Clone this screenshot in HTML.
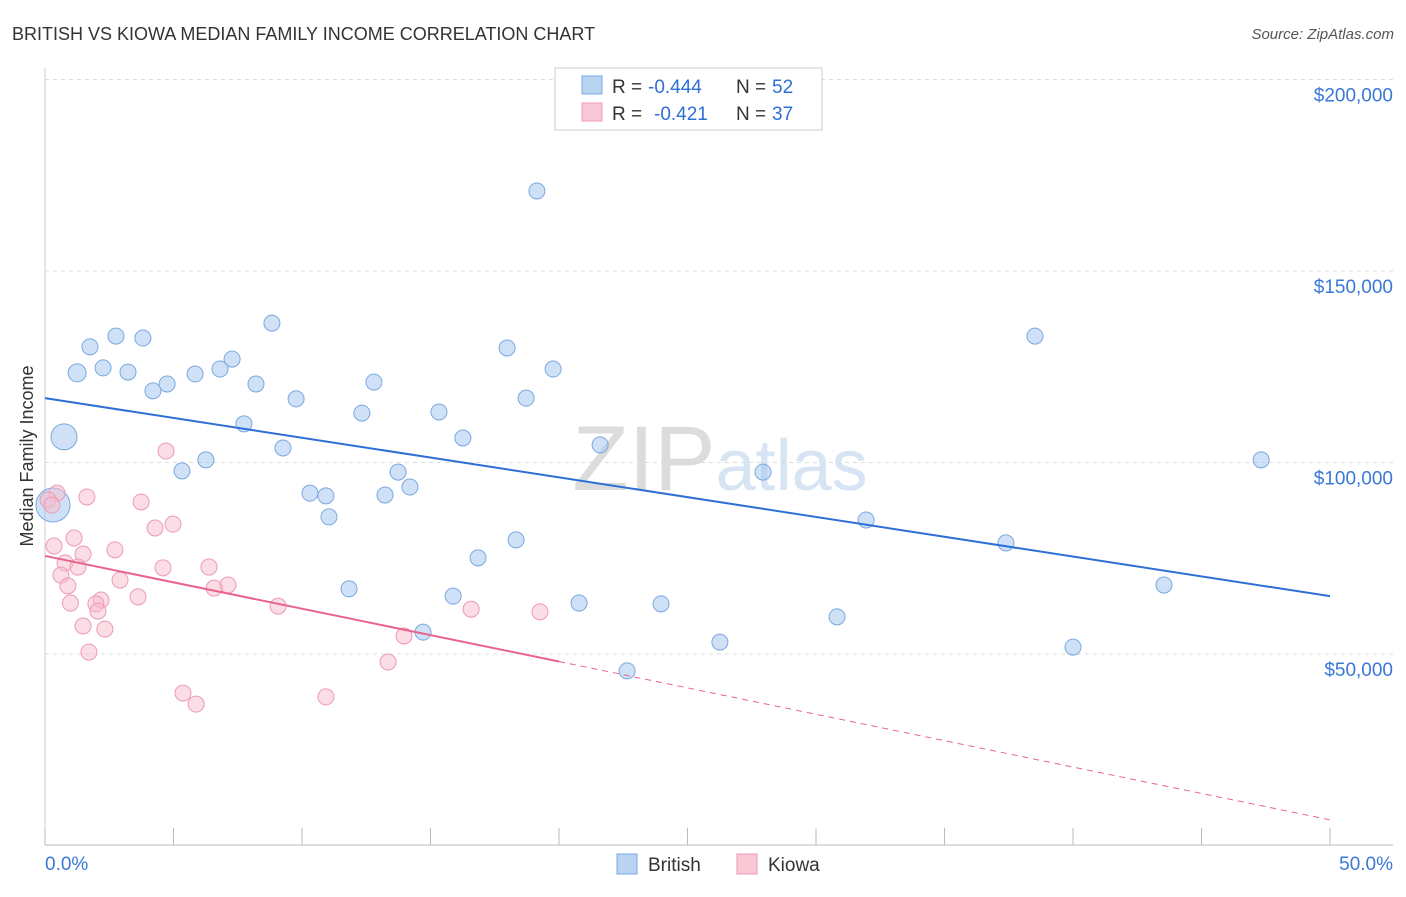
<!DOCTYPE html>
<html><head><meta charset="utf-8">
<style>
body{margin:0;background:#fff;font-family:"Liberation Sans",sans-serif;}
svg text{font-family:"Liberation Sans",sans-serif;}
</style></head>
<body>
<svg id="chart" width="1406" height="892" viewBox="0 0 1406 892" xmlns="http://www.w3.org/2000/svg">
<text x="12" y="40" font-size="18" fill="#333">BRITISH VS KIOWA MEDIAN FAMILY INCOME CORRELATION CHART</text>
<text x="1394" y="39" font-size="15" fill="#555" text-anchor="end" font-style="italic">Source: ZipAtlas.com</text>
<text x="720" y="490" font-size="92" fill="#e6e6e6" text-anchor="middle" font-family="Liberation Serif"><tspan fill="#dcdcdc">ZIP</tspan><tspan fill="#d6e4f3" font-family="Liberation Sans" font-size="72">atlas</tspan></text>
<g id="grid"></g>
<g id="axes"></g>
<g id="marks"></g>
<text transform="translate(33,456) rotate(-90)" font-size="18" fill="#333" text-anchor="middle">Median Family Income</text>
<g>
<rect x="555" y="68" width="267" height="62" fill="#fff" stroke="#ccc"/>
<rect x="582" y="76" width="20" height="18" fill="#b9d4f3" stroke="#7aa8e0"/>
<rect x="582" y="103" width="20" height="18" fill="#f9c9d7" stroke="#ee9ab3"/>
<text x="612" y="93" font-size="19" fill="#333">R =</text>
<text x="648" y="93" font-size="19" fill="#2e6fd6">-0.444</text>
<text x="736" y="93" font-size="19" fill="#333">N =</text>
<text x="772" y="93" font-size="19" fill="#2e6fd6">52</text>
<text x="612" y="120" font-size="19" fill="#333">R =</text>
<text x="654" y="120" font-size="19" fill="#2e6fd6">-0.421</text>
<text x="736" y="120" font-size="19" fill="#333">N =</text>
<text x="772" y="120" font-size="19" fill="#2e6fd6">37</text>
</g>
<g>
<rect x="617" y="854" width="20" height="20" fill="#b9d4f3" stroke="#7aa8e0"/>
<text x="648" y="871" font-size="19" fill="#333">British</text>
<rect x="737" y="854" width="20" height="20" fill="#f9c9d7" stroke="#ee9ab3"/>
<text x="768" y="871" font-size="19" fill="#333">Kiowa</text>
</g>
</svg>
<script>
const britishX=[19.14,38.52,8.83,2.76,3.81,1.75,17.98,7.28,1.25,2.26,3.23,5.84,6.81,19.77,4.75,4.20,8.21,12.80,9.77,18.72,12.33,15.33,7.74,0.74,16.26,21.60,9.26,6.26,47.32,5.33,13.74,27.94,0.31,10.31,10.93,13.23,14.20,11.05,31.95,18.33,37.39,16.85,11.83,43.54,15.88,20.78,23.97,30.82,14.71,26.26,40.00,22.65];
const britishY=[170900,133000,136400,133000,132500,130200,129900,127000,123400,124700,123600,123100,124400,124400,120500,118700,120500,121000,116600,116800,112900,113200,110100,106700,106400,104600,103800,100700,100700,97800,97500,97500,88900,92000,91300,91500,93600,85800,85000,79800,79000,75100,67000,68000,65100,63300,63100,59700,55700,53100,51800,45600];
const britishR=[8,8,8,8,8,8,8,8,9,8,8,8,8,8,8,8,8,8,8,8,8,8,8,13,8,8,8,8,8,8,8,8,17,8,8,8,8,8,8,8,8,8,8,8,8,8,8,8,8,8,8,8];
const kiowaX=[4.71,0.47,0.12,1.63,3.74,0.27,4.98,4.28,1.13,0.35,2.72,1.48,0.78,1.28,4.59,6.38,0.62,2.92,0.89,7.12,6.58,3.62,2.18,0.99,1.98,9.07,2.06,16.58,19.26,1.48,2.33,13.97,1.71,13.35,5.37,10.93,5.88];
const kiowaY=[103000,92000,90200,91000,89700,88900,83900,82900,80300,78200,77200,76100,73800,72700,72500,72700,70600,69300,67800,68000,67200,64900,64100,63300,63100,62500,61200,61700,61000,57300,56500,54700,50500,47900,39800,38800,36900];
const britishTrend=[116800,65100];
const kiowaTrend=[75600,6700];
const kiowaSolidEnd=20;
const yTicks=[50000,100000,150000,200000];
const yTickLabels=["$50,000","$100,000","$150,000","$200,000"];
const xTickLabels=["0.0%","50.0%"];

const NS="http://www.w3.org/2000/svg";
const xs=p=>45+p*25.7;
const ys=v=>654-(v-50000)/261.1;
function mk(tag,attrs,parent){const e=document.createElementNS(NS,tag);for(const k in attrs)e.setAttribute(k,attrs[k]);parent.appendChild(e);return e;}
const grid=document.getElementById('grid'),axes=document.getElementById('axes'),marks=document.getElementById('marks');
yTicks.forEach((v,i)=>{
  const l=mk('line',{x1:45,x2:1393,y1:ys(v),y2:ys(v),stroke:'#ddd','stroke-dasharray':'4,4'},grid);
  
  
  const t=mk('text',{x:1393,y:ys(v)+22,'font-size':19,fill:'#3a78d8','text-anchor':'end'},axes);
  t.textContent=yTickLabels[i];
  
  
});
const ax=mk('line',{x1:45,x2:1393,y1:845,y2:845,stroke:'#bbb'},axes);


const ay=mk('line',{x1:45,x2:45,y1:68,y2:845,stroke:'#ccc'},axes);


for(let i=0;i<=10;i++){
  const t=mk('line',{x1:xs(i*5),x2:xs(i*5),y1:828,y2:845,stroke:'#bbb'},axes);
  
  
}
[[0,'start',45],[50,'end',1393]].forEach((d,i)=>{
  const t=mk('text',{x:d[2],y:870,'font-size':19,fill:'#3a78d8','text-anchor':d[1]},axes);
  t.textContent=xTickLabels[i];
  
  
});
britishX.forEach((x,i)=>{
  const c=mk('circle',{cx:xs(x),cy:ys(britishY[i]),r:britishR[i],fill:'rgba(160,196,240,0.5)',stroke:'#7aa8e0','stroke-width':1},marks);
  
  
});
kiowaX.forEach((x,i)=>{
  const c=mk('circle',{cx:xs(x),cy:ys(kiowaY[i]),r:8,fill:'rgba(248,188,206,0.5)',stroke:'#ee9ab3','stroke-width':1},marks);
  
  
});
const bt=mk('line',{x1:xs(0),y1:ys(britishTrend[0]),x2:xs(50),y2:ys(britishTrend[1]),stroke:'#2e6fd6','stroke-width':2},marks);


const kAt=p=>kiowaTrend[0]+(kiowaTrend[1]-kiowaTrend[0])*p/50;
const kt=mk('line',{x1:xs(0),y1:ys(kiowaTrend[0]),x2:xs(kiowaSolidEnd),y2:ys(kAt(kiowaSolidEnd)),stroke:'#e8648f','stroke-width':2},marks);


const kd=mk('line',{x1:xs(kiowaSolidEnd),y1:ys(kAt(kiowaSolidEnd)),x2:xs(50),y2:ys(kiowaTrend[1]),stroke:'#e8648f','stroke-width':1,'stroke-dasharray':'6,5'},marks);


</script>
</body></html>
